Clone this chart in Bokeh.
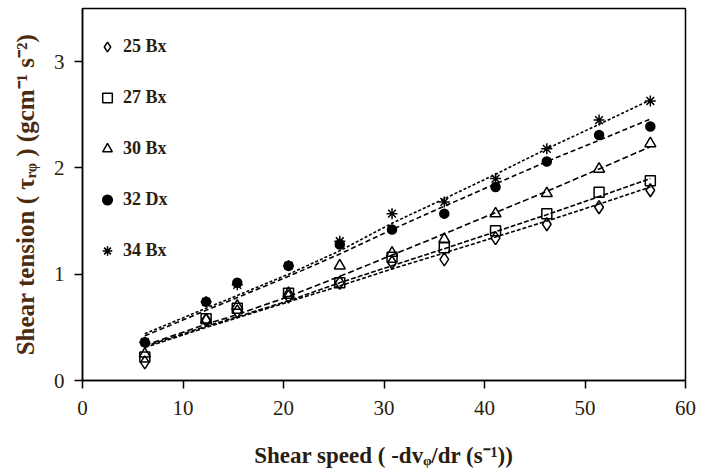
from bokeh.plotting import figure
from bokeh.models import Range1d, FixedTicker, Legend, LegendItem
from bokeh.embed import file_html
from bokeh.resources import INLINE

# ---- data ----
shear_speed = [6.2, 12.3, 15.4, 20.5, 25.6, 30.8, 36.0, 41.1, 46.2, 51.4, 56.5]

series_names = ["25 Bx", "27 Bx", "30 Bx", "32 Dx", "34 Bx"]

tension_25 = [0.17, 0.57, 0.65, 0.79, 0.92, 1.11, 1.14, 1.34, 1.47, 1.63, 1.79]
tension_27 = [0.22, 0.58, 0.68, 0.82, 0.92, 1.16, 1.25, 1.41, 1.57, 1.77, 1.88]
tension_30 = [0.25, 0.57, 0.70, 0.82, 1.08, 1.20, 1.33, 1.57, 1.76, 1.99, 2.23]
tension_32 = [0.36, 0.74, 0.92, 1.08, 1.28, 1.42, 1.57, 1.82, 2.06, 2.31, 2.39]
tension_34 = [0.36, 0.74, 0.90, 1.08, 1.31, 1.57, 1.68, 1.90, 2.18, 2.45, 2.63]

# fitted trend lines
fit_25 = [0.31, 0.50, 0.59, 0.74, 0.89, 1.05, 1.20, 1.35, 1.50, 1.66, 1.82]
fit_27 = [0.32, 0.51, 0.60, 0.75, 0.92, 1.08, 1.24, 1.40, 1.56, 1.73, 1.90]
fit_30 = [0.33, 0.53, 0.62, 0.79, 0.98, 1.18, 1.38, 1.58, 1.78, 1.99, 2.20]
fit_32 = [0.42, 0.66, 0.78, 0.98, 1.19, 1.42, 1.64, 1.85, 2.06, 2.26, 2.46]
fit_34 = [0.44, 0.68, 0.80, 1.00, 1.22, 1.48, 1.71, 1.94, 2.18, 2.41, 2.64]

x_ticks = [0, 10, 20, 30, 40, 50, 60]
y_ticks = [0, 1, 2, 3]

TEXT = "#2b1d0e"
SERIF = "Liberation Serif"

p = figure(width=707, height=474, output_backend="svg", toolbar_location=None,
           x_range=Range1d(0, 60), y_range=Range1d(0, 3.5),
           min_border_left=82, min_border_right=22, min_border_top=8, min_border_bottom=94)

p.xgrid.visible = False
p.ygrid.visible = False
p.outline_line_color = "black"
p.outline_line_width = 1.5
p.background_fill_color = "white"
p.border_fill_color = "white"

for ax in (p.xaxis[0], p.yaxis[0]):
    ax.axis_line_color = "black"
    ax.axis_line_width = 1.5
    ax.major_tick_line_color = "black"
    ax.major_tick_line_width = 1.5
    ax.major_tick_in = 0
    ax.major_tick_out = 8
    ax.minor_tick_line_color = None
    ax.major_label_text_font = SERIF
    ax.major_label_text_font_size = "21px"
    ax.major_label_text_color = TEXT
    ax.axis_label_text_font = SERIF
    ax.axis_label_text_font_style = "bold"
    ax.axis_label_text_color = TEXT

p.xaxis.ticker = FixedTicker(ticks=x_ticks)
p.yaxis.ticker = FixedTicker(ticks=y_ticks)
p.xaxis.major_label_standoff = 12
p.yaxis.major_label_standoff = 10
p.xaxis.axis_label = "Shear speed ( -dvᵩ/dr (s⁻¹))"
p.yaxis.axis_label = "Shear tension ( τᵣᵩ ) (gcm⁻¹ s⁻²)"
p.xaxis.axis_label_text_font_size = "23px"
p.yaxis.axis_label_text_font_size = "25px"
p.xaxis.axis_label_standoff = 25
p.yaxis.axis_label_standoff = 12
p.yaxis.axis_label_text_color = "#4a2a10"

tensions = [tension_25, tension_27, tension_30, tension_32, tension_34]
fits = [fit_25, fit_27, fit_30, fit_32, fit_34]
markers = ["diamond", "square", "triangle", "circle", "asterisk"]
fills = [None, None, None, "black", None]
sizes = [13, 10, 11, 9, 11]
dashes = ["4 2", "5 2", "6 3", "5 3", "3 2"]

items = []
for name, ys, fy, mk, fc, sz, dash in zip(series_names, tensions, fits, markers, fills, sizes, dashes):
    p.line(shear_speed, fy, line_color="black", line_width=1.6, line_dash=dash)
    r = p.scatter(shear_speed, ys, marker=mk, size=sz, line_color="black", line_width=1.5,
                  fill_color=fc if fc else "white", fill_alpha=1.0 if fc else 0.0)
    items.append(LegendItem(label=name, renderers=[r]))

legend = Legend(items=items, location=(13, 117), orientation="vertical",
                glyph_width=24, glyph_height=25, label_height=25, spacing=26,
                padding=4, margin=0, label_standoff=4,
                label_text_font=SERIF, label_text_font_size="18px",
                label_text_font_style="bold", label_text_color=TEXT,
                border_line_color=None, background_fill_alpha=0.0)
p.add_layout(legend, "center")

open("out.html", "w").write(file_html(p, INLINE))
